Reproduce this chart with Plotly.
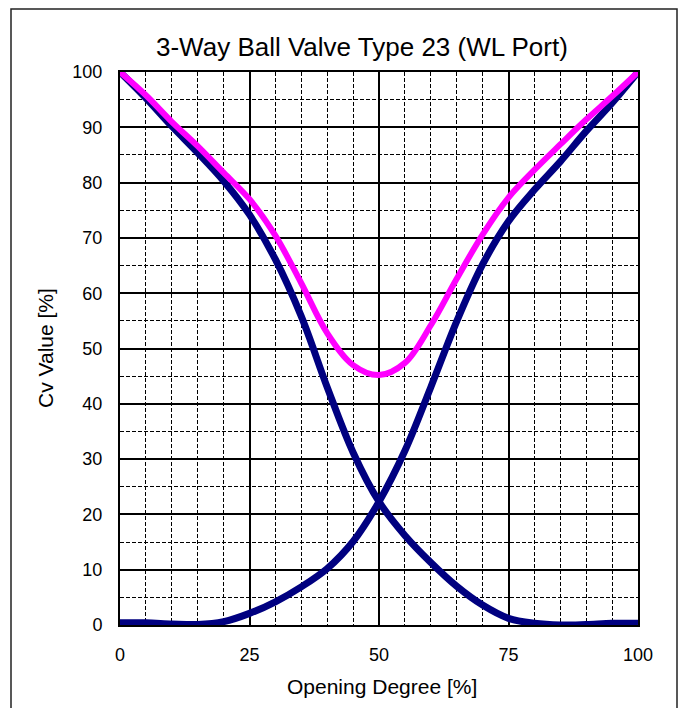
import plotly.graph_objects as go

# Opening degree [%]
opening = [0, 5, 10, 15, 20, 25, 30, 35, 40, 45, 50, 55, 60, 65, 70, 75, 80, 85, 90, 95, 100]

# Cv value [%] - port closing (decreasing navy curve)
cv_closing = [100, 95.3, 90.2, 85.4, 80.3, 74.2, 66.1, 55.8, 43.0, 31.2, 22.3,
              16.2, 11.3, 7.0, 3.6, 1.2, 0.3, 0.0, 0.1, 0.3, 0.3]
# Cv value [%] - port opening (increasing navy curve)
cv_opening = [0.4, 0.4, 0.2, 0.1, 0.6, 2.1, 4.2, 6.9, 10.2, 15.1, 22.3,
              31.5, 43.0, 54.9, 65.2, 73.0, 78.7, 83.8, 89.3, 94.4, 100]
# Cv value [%] - total (magenta curve)
cv_total = [100, 95.8, 91.0, 86.6, 81.8, 77.0, 70.4, 61.8, 52.8, 47.0, 45.2,
            47.4, 54.2, 62.6, 70.6, 77.3, 82.3, 86.9, 91.4, 95.6, 100]

x_ticks = [0, 25, 50, 75, 100]
y_ticks = [0, 10, 20, 30, 40, 50, 60, 70, 80, 90, 100]

FONT = "Liberation Sans, Arial, sans-serif"

fig = go.Figure()
for ys in (cv_closing, cv_opening):
    fig.add_trace(go.Scatter(x=opening, y=ys, mode="lines",
                             line=dict(color="#000080", width=7, shape="spline", smoothing=1.0),
                             showlegend=False))
fig.add_trace(go.Scatter(x=opening, y=cv_total, mode="lines",
                         line=dict(color="#FF00FF", width=6, shape="spline", smoothing=1.0),
                         showlegend=False))

OFF = 8  # page body margin
W, H = 686 - 2 * OFF, 716 - 2 * OFF
L, T = 120 - OFF, 72 - OFF
R = W + OFF - 638
B = H + OFF - 625
pw, ph = W - L - R, H - T - B

def px_x(p):
    return (p - OFF - L) / pw

def px_y(p):
    return (H + OFF - B - p) / ph

fig.update_layout(
    width=W, height=H,
    margin=dict(l=L, r=R, t=T, b=B),
    paper_bgcolor="white", plot_bgcolor="white",
    font=dict(family=FONT, color="black", size=18),
    xaxis=dict(range=[0, 100], tickvals=x_ticks, ticks="", ticklabelstandoff=12,
               showgrid=True, gridcolor="black", gridwidth=1.5,
               showline=True, linecolor="black", linewidth=2, mirror=True,
               zeroline=False, tickfont=dict(size=18),
               minor=dict(dtick=5, showgrid=True, gridcolor="black", gridwidth=1.3,
                          griddash="4px,2px", ticks="")),
    yaxis=dict(range=[0, 100], tickvals=y_ticks, ticks="", ticklabelstandoff=12,
               showgrid=True, gridcolor="black", gridwidth=1.5,
               showline=True, linecolor="black", linewidth=2, mirror=True,
               zeroline=False, tickfont=dict(size=18),
               minor=dict(dtick=5, showgrid=True, gridcolor="black", gridwidth=1.3,
                          griddash="4px,2px", ticks="")),
    annotations=[
        dict(text="3-Way Ball Valve Type 23 (WL Port)", x=px_x(362), y=px_y(47),
             xref="paper", yref="paper", showarrow=False, xanchor="center", yanchor="middle",
             font=dict(size=26)),
        dict(text="Opening Degree [%]", x=px_x(382), y=px_y(686),
             xref="paper", yref="paper", showarrow=False, xanchor="center", yanchor="middle",
             font=dict(size=21)),
        dict(text="Cv Value [%]", x=px_x(45), y=px_y(348), textangle=-90,
             xref="paper", yref="paper", showarrow=False, xanchor="center", yanchor="middle",
             font=dict(size=21)),
    ],
    shapes=[
        dict(type="rect", xref="paper", yref="paper",
             x0=px_x(11), x1=px_x(W + OFF - 1), y0=px_y(H + OFF + 20), y1=px_y(OFF + 1),
             line=dict(color="#222222", width=1.5), layer="below"),
    ],
)

fig.write_html("out.html")
